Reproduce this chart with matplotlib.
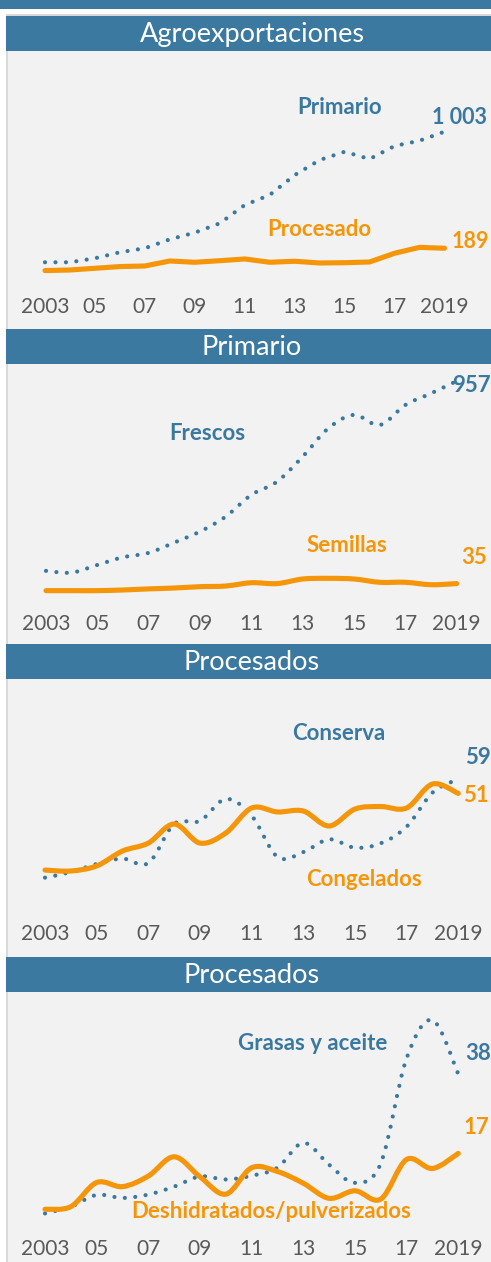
import numpy as np
import matplotlib
matplotlib.use("Agg")
import matplotlib.pyplot as plt
from matplotlib.path import Path
from matplotlib.patches import PathPatch, Rectangle

# ---------------- data ----------------
years = list(range(2003, 2020))
tick_years = [2003, 2005, 2007, 2009, 2011, 2013, 2015, 2017, 2019]
tick_labels = ["2003", "05", "07", "09", "11", "13", "15", "17", "2019"]

titles = ["Agroexportaciones", "Primario", "Procesados", "Procesados"]

# Panel 1: Agroexportaciones
primario = [91, 91, 119, 161, 189, 251, 298, 363, 491, 561, 700, 805, 863, 812, 903, 940, 1003]
procesado = [33, 37, 49, 61, 65, 100, 91, 102, 114, 91, 98, 86, 88, 93, 154, 195, 189]

# Panel 2: Primario
frescos = [93, 85, 120, 155, 175, 222, 272, 340, 439, 499, 613, 742, 803, 757, 848, 901, 957]
semillas = [3, 3, 3, 6, 11, 15, 21, 24, 39, 35, 56, 59, 56, 41, 41, 30, 35]

# Panel 3: Procesados
conserva = [4.2, 7.3, 11.8, 14.8, 12.3, 34.0, 35.7, 47.9, 38.6, 15.7, 18.4, 25.5, 20.8, 23.3, 32.5, 51.4, 59]
congelados = [8.4, 7.9, 10.7, 19.0, 23.4, 34.0, 23.4, 29.0, 42.9, 40.7, 41.2, 32.9, 42.3, 43.7, 42.9, 56.2, 51]

# Panel 4: Procesados
grasas = [1.1, 2.9, 6.0, 5.2, 6.1, 8.2, 10.9, 10.1, 11.1, 13.2, 19.8, 14.0, 9.2, 14.4, 42.2, 52.3, 38]
deshidratados = [2.2, 2.9, 9.3, 8.2, 11.0, 16.1, 10.8, 6.2, 13.2, 12.2, 9.1, 5.1, 7.1, 4.9, 15.4, 13.0, 17]

# ---------------- style ----------------
W, H = 491, 1262
BLUE = "#3A78A0"
HEAD = "#3B79A0"
ORANGE = "#F5960A"
GRAY_TXT = "#595959"
BG = "#F2F2F2"
FONT = "Lato"

plt.rcParams["font.family"] = [FONT, "DejaVu Sans"]

fig = plt.figure(figsize=(W / 100, H / 100), dpi=100)
bg = fig.add_axes([0, 0, 1, 1])
bg.set_xlim(0, W)
bg.set_ylim(H, 0)
bg.axis("off")

bg.add_patch(Rectangle((0, 0), W, 9, color=HEAD, lw=0))
bg.add_patch(Rectangle((7, 14), W - 7, H - 14, color=BG, lw=0))
bg.add_patch(Rectangle((6, 14), W - 6, 2, color="#D9D9D9", lw=0))
bg.add_patch(Rectangle((6, 14), 2, H - 14, color="#D9D9D9", lw=0))

# panel layout (pixels): header top, header bottom, panel bottom, tick center,
# x of 2003, px per year, y of zero, px per unit
panels = [
    dict(ht=16, hb=51, pb=329, tc=306, x0=45, ppy=24.97, y0=275.3, s=0.1432),
    dict(ht=329, hb=364, pb=644, tc=623, x0=46, ppy=25.67, y0=591.3, s=0.2197),
    dict(ht=644, hb=679, pb=957, tc=933, x0=45, ppy=25.83, y0=885.2, s=1.8),
    dict(ht=957, hb=992, pb=1262, tc=1248, x0=45, ppy=25.83, y0=1217.6, s=3.777),
]


def smooth_path(x, y):
    pts = np.column_stack([x, y]).astype(float)
    n = len(pts)
    verts = [pts[0]]
    codes = [Path.MOVETO]
    for i in range(n - 1):
        p0 = pts[i - 1] if i > 0 else pts[i]
        p1 = pts[i]
        p2 = pts[i + 1]
        p3 = pts[i + 2] if i + 2 < n else pts[i + 1]
        verts += [p1 + (p2 - p0) / 6.0, p2 - (p3 - p1) / 6.0, p2]
        codes += [Path.CURVE4] * 3
    return Path(verts, codes)


def make_axes(p):
    top = p["hb"]
    bot = p["tc"] - 10
    ax = fig.add_axes([0, 1 - bot / H, 1, (bot - top) / H])
    ax.set_facecolor("none")
    ax.set_xlim(2003 - p["x0"] / p["ppy"], 2003 + (W - p["x0"]) / p["ppy"])
    ax.set_ylim((p["y0"] - bot) / p["s"], (p["y0"] - top) / p["s"])
    for sp in ax.spines.values():
        sp.set_visible(False)
    ax.set_yticks([])
    ax.set_xticks(tick_years)
    ax.set_xticklabels(tick_labels)
    ax.tick_params(axis="x", length=0, pad=1, labelsize=15, labelcolor=GRAY_TXT)
    return ax


DOT = (0, (0.01, 2.5))
LW_SOLID = 3.7
LW_DOT = 3.0


def draw(ax, vals, color, dotted, smooth):
    if smooth:
        path = smooth_path(years, vals)
        patch = PathPatch(path, fill=False, edgecolor=color,
                          lw=LW_DOT if dotted else LW_SOLID,
                          linestyle=DOT if dotted else "-",
                          capstyle="round", joinstyle="round", zorder=3)
        ax.add_patch(patch)
    else:
        if dotted:
            ax.plot(years, vals, color=color, lw=LW_DOT, linestyle=DOT,
                    dash_capstyle="round", zorder=3)
        else:
            ax.plot(years, vals, color=color, lw=LW_SOLID,
                    solid_capstyle="round", solid_joinstyle="round", zorder=3)


def fmt(v):
    return f"{v:,.0f}".replace(",", " ")


series = [
    (primario, procesado, False, "Primario", "Procesado"),
    (frescos, semillas, True, "Frescos", "Semillas"),
    (conserva, congelados, True, "Conserva", "Congelados"),
    (grasas, deshidratados, True, "Grasas y aceite", "Deshidratados/pulverizados"),
]

# label positions in pixels: (name blue), (value blue), (name orange), (value orange)
label_pos = [
    [(340, 108), (460, 117), (319, 229), (470, 242)],
    [(207, 434), (471, 386), (347, 545), (474, 557)],
    [(339, 733), (478, 757), (364, 880), (476, 796)],
    [(313, 1044), (478, 1054), (271, 1212), (476, 1128)],
]

LBL = 16
for i, p in enumerate(panels):
    bg.add_patch(Rectangle((6, p["ht"]), W - 6, p["hb"] - p["ht"], color=HEAD, lw=0))
    bg.text(252, (p["ht"] + p["hb"]) / 2 + 1, titles[i], color="white", fontsize=19.5,
            ha="center", va="center")
    ax = make_axes(p)
    b, o, sm, nb, no = series[i]
    draw(ax, b, BLUE, True, sm)
    draw(ax, o, ORANGE, False, sm)
    lp = label_pos[i]
    vsize = 15.5 if i == 0 else LBL
    bg.text(*lp[0], nb, color=BLUE, fontsize=LBL, fontweight="bold", ha="center", va="center")
    bg.text(*lp[1], fmt(b[-1]), color=BLUE, fontsize=vsize, fontweight="bold", ha="center", va="center")
    bg.text(*lp[2], no, color=ORANGE, fontsize=LBL, fontweight="bold", ha="center", va="center")
    bg.text(*lp[3], fmt(o[-1]), color=ORANGE, fontsize=vsize, fontweight="bold", ha="center", va="center")

fig.savefig("out.png", dpi=100)
